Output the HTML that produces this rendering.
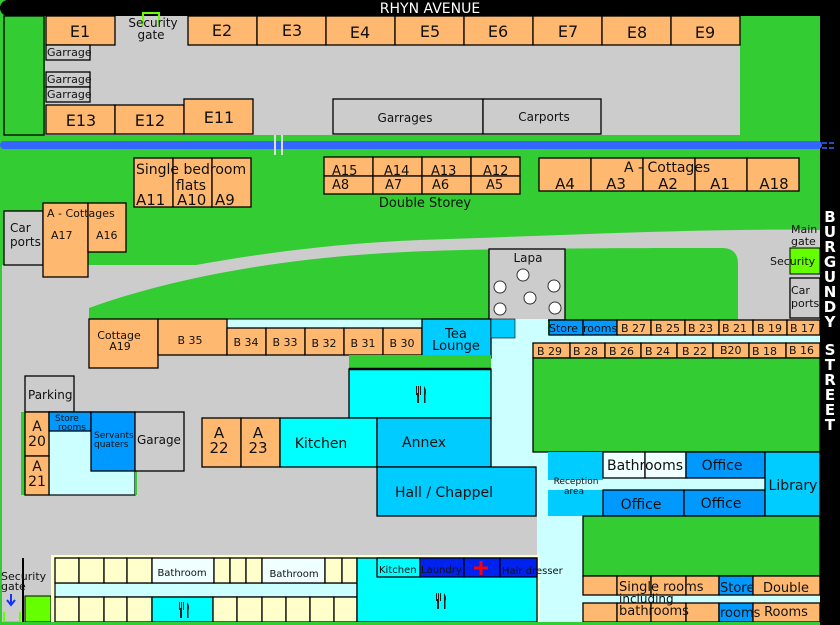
<!DOCTYPE html>
<html><head><meta charset="utf-8"><style>
html,body{margin:0;padding:0;background:#33cc33}
svg{display:block}
text{font-family:"DejaVu Sans","Liberation Sans",sans-serif;fill:#111}
.o{fill:#ffb870;stroke:#000;stroke-width:1.3}
.g{fill:#cccccc;stroke:#000;stroke-width:1.3}
.c{fill:#00ffff;stroke:#000;stroke-width:1.3}
.b{fill:#00ccff;stroke:#000;stroke-width:1.3}
.d{fill:#0099ff;stroke:#000;stroke-width:1.3}
.l{fill:#ccffff}
.y{fill:#ffffcc;stroke:#000;stroke-width:1.3}
.w{fill:#f0ffff;stroke:#000;stroke-width:1.3}
</style></head><body>
<svg width="840" height="625" viewBox="0 0 840 625" xmlns="http://www.w3.org/2000/svg">
<rect x="0" y="0" width="840" height="625" fill="#33cc33"/>
<rect x="45" y="14" width="695" height="121" fill="#cccccc"/>
<rect x="4" y="16" width="40" height="119" fill="#33cc33" stroke="#000" stroke-width="1.3"/>
<rect x="0" y="0" width="838" height="16" rx="8" fill="#000"/>
<text x="430" y="13" font-size="14" text-anchor="middle" style="fill:#fff">RHYN AVENUE</text>
<rect x="820" y="0" width="20" height="625" fill="#000"/>
<rect x="46" y="16" width="69" height="29" class="o"/><text x="80" y="37" font-size="16" text-anchor="middle">E1</text>
<path d="M143 25 V13 H159 V25" fill="none" stroke="#66ff00" stroke-width="2"/>
<text x="153" y="27" font-size="12" text-anchor="middle">Security</text>
<text x="151" y="39" font-size="12" text-anchor="middle">gate</text>
<rect x="188" y="16" width="69" height="29" class="o"/><text x="222" y="36" font-size="16" text-anchor="middle">E2</text>
<rect x="257" y="16" width="69" height="29" class="o"/><text x="292" y="36" font-size="16" text-anchor="middle">E3</text>
<rect x="326" y="16" width="69" height="29" class="o"/><text x="360" y="38" font-size="16" text-anchor="middle">E4</text>
<rect x="395" y="16" width="69" height="29" class="o"/><text x="430" y="37" font-size="16" text-anchor="middle">E5</text>
<rect x="464" y="16" width="69" height="29" class="o"/><text x="498" y="37" font-size="16" text-anchor="middle">E6</text>
<rect x="533" y="16" width="69" height="29" class="o"/><text x="568" y="37" font-size="16" text-anchor="middle">E7</text>
<rect x="602" y="16" width="69" height="29" class="o"/><text x="637" y="38" font-size="16" text-anchor="middle">E8</text>
<rect x="671" y="16" width="69" height="29" class="o"/><text x="705" y="38" font-size="16" text-anchor="middle">E9</text>
<rect x="46" y="45" width="44" height="15" class="g"/><text x="47" y="56" font-size="11">Garrage</text>
<rect x="46" y="72" width="44" height="15" class="g"/><text x="47" y="83" font-size="11">Garrage</text>
<rect x="46" y="87" width="44" height="15" class="g"/><text x="47" y="98" font-size="11">Garrage</text>
<rect x="46" y="105" width="69" height="29" class="o"/><text x="81" y="126" font-size="16" text-anchor="middle">E13</text>
<rect x="115" y="105" width="69" height="29" class="o"/><text x="150" y="126" font-size="16" text-anchor="middle">E12</text>
<rect x="184" y="99" width="69" height="35" class="o"/><text x="219" y="123" font-size="16" text-anchor="middle">E11</text>
<rect x="333" y="99" width="150" height="35" class="g"/><text x="405" y="122" font-size="12" text-anchor="middle">Garrages</text>
<rect x="483" y="99" width="118" height="35" class="g"/><text x="544" y="121" font-size="12" text-anchor="middle">Carports</text>
<rect x="0" y="141" width="822" height="8" rx="4" fill="#3366ff"/>
<line x1="275" y1="135" x2="275" y2="155" stroke="#ddd" stroke-width="2"/>
<line x1="282" y1="135" x2="282" y2="155" stroke="#ddd" stroke-width="2"/>
<line x1="822" y1="143" x2="836" y2="143" stroke="#3366ff" stroke-width="1.5" stroke-dasharray="5,2"/>
<line x1="822" y1="148" x2="836" y2="148" stroke="#3366ff" stroke-width="1.5" stroke-dasharray="5,2"/>
<rect x="2" y="265" width="546" height="360" fill="#cccccc"/>
<rect x="43" y="205" width="45" height="70" fill="#cccccc"/>
<path d="M88 320 L88 287 C200 262 300 245 420 240 C550 236 700 228 820 230 L820 320 Z" fill="#cccccc"/>
<path d="M89 320 L89 308 C180 275 300 255 430 251 C520 248 650 248 722 248 Q738 248 738 264 L738 320 Z" fill="#33cc33"/>
<rect x="4" y="211" width="39" height="54" class="g"/><text x="10" y="232" font-size="12">Car</text><text x="10" y="246" font-size="12">ports</text>
<rect x="134" y="158" width="39" height="49" class="o"/><rect x="173" y="158" width="39" height="49" class="o"/><rect x="212" y="158" width="39" height="49" class="o"/>
<text x="136" y="174" font-size="14">Single bedroom</text>
<text x="191" y="190" font-size="14" text-anchor="middle">flats</text>
<text x="136" y="205" font-size="15">A11</text><text x="177" y="205" font-size="15">A10</text><text x="215" y="205" font-size="15">A9</text>
<rect x="324" y="157" width="49" height="19" class="o"/><rect x="373" y="157" width="49" height="19" class="o"/><rect x="422" y="157" width="49" height="19" class="o"/><rect x="471" y="157" width="49" height="19" class="o"/>
<rect x="324" y="176" width="49" height="18" class="o"/><rect x="373" y="176" width="49" height="18" class="o"/><rect x="422" y="176" width="49" height="18" class="o"/><rect x="471" y="176" width="49" height="18" class="o"/>
<text x="332" y="175" font-size="13">A15</text><text x="384" y="175" font-size="13">A14</text><text x="431" y="175" font-size="13">A13</text><text x="483" y="175" font-size="13">A12</text>
<text x="332" y="189" font-size="13">A8</text><text x="385" y="189" font-size="13">A7</text><text x="432" y="189" font-size="13">A6</text><text x="486" y="189" font-size="13">A5</text>
<text x="425" y="207" font-size="13" text-anchor="middle">Double Storey</text>
<rect x="539" y="158" width="52" height="33" class="o"/><rect x="591" y="158" width="52" height="33" class="o"/><rect x="643" y="158" width="52" height="33" class="o"/><rect x="695" y="158" width="52" height="33" class="o"/><rect x="747" y="158" width="52" height="33" class="o"/>
<text x="624" y="172" font-size="14">A - Cottages</text>
<text x="565" y="189" font-size="15" text-anchor="middle">A4</text><text x="616" y="189" font-size="15" text-anchor="middle">A3</text><text x="668" y="189" font-size="15" text-anchor="middle">A2</text><text x="720" y="189" font-size="15" text-anchor="middle">A1</text><text x="774" y="189" font-size="15" text-anchor="middle">A18</text>
<rect x="43" y="203" width="45" height="74" class="o"/><rect x="88" y="203" width="38" height="49" class="o"/>
<text x="47" y="217" font-size="11">A - Cottages</text>
<text x="51" y="239" font-size="11">A17</text><text x="96" y="239" font-size="11">A16</text>
<text x="791" y="233" font-size="11">Main</text><text x="791" y="245" font-size="11">gate</text>
<rect x="790" y="248" width="30" height="26" fill="#66ff00" stroke="#000"/>
<text x="770" y="265" font-size="11">Security</text>
<rect x="790" y="278" width="30" height="40" class="g"/><text x="791" y="294" font-size="11">Car</text><text x="791" y="307" font-size="11">ports</text>
<g font-size="15" font-weight="bold" text-anchor="middle">
<text x="830" y="222" style="fill:#fff">B</text><text x="830" y="237" style="fill:#fff">U</text><text x="830" y="252" style="fill:#fff">R</text><text x="830" y="267" style="fill:#fff">G</text><text x="830" y="282" style="fill:#fff">U</text><text x="830" y="297" style="fill:#fff">N</text><text x="830" y="312" style="fill:#fff">D</text><text x="830" y="327" style="fill:#fff">Y</text>
<text x="830" y="355" style="fill:#fff">S</text><text x="830" y="370" style="fill:#fff">T</text><text x="830" y="385" style="fill:#fff">R</text><text x="830" y="400" style="fill:#fff">E</text><text x="830" y="415" style="fill:#fff">E</text><text x="830" y="430" style="fill:#fff">T</text>
</g>
<rect x="489" y="249" width="76" height="71" class="g"/>
<text x="528" y="262" font-size="12" text-anchor="middle">Lapa</text>
<g fill="#fff" stroke="#333" stroke-width="1">
<circle cx="523" cy="275" r="6"/><circle cx="500" cy="287" r="6"/><circle cx="530" cy="298" r="6"/><circle cx="554" cy="286" r="6"/><circle cx="500" cy="309" r="6"/><circle cx="555" cy="308" r="6"/>
</g>
<path d="M491 319 L548 319 L548 452 L537 452 L537 625 L583 625 L583 516 L537 516 L537 470 L491 470 Z" class="l"/>
<rect x="537" y="452" width="46" height="173" class="l"/>
<rect x="227" y="319" width="195" height="10" class="l" stroke="#000" stroke-width="1"/>
<rect x="89" y="319" width="69" height="49" class="o"/><text x="119" y="339" font-size="11" text-anchor="middle">Cottage</text><text x="120" y="350" font-size="11" text-anchor="middle">A19</text>
<rect x="158" y="319" width="69" height="36" class="o"/><text x="190" y="344" font-size="11" text-anchor="middle">B 35</text>
<rect x="227" y="328" width="39" height="27" class="o"/><text x="246" y="346" font-size="11" text-anchor="middle">B 34</text>
<rect x="266" y="328" width="39" height="27" class="o"/><text x="285" y="346" font-size="11" text-anchor="middle">B 33</text>
<rect x="305" y="328" width="39" height="27" class="o"/><text x="324" y="347" font-size="11" text-anchor="middle">B 32</text>
<rect x="344" y="328" width="39" height="27" class="o"/><text x="363" y="347" font-size="11" text-anchor="middle">B 31</text>
<rect x="383" y="328" width="39" height="27" class="o"/><text x="402" y="347" font-size="11" text-anchor="middle">B 30</text>
<rect x="422" y="319" width="69" height="39" class="b"/><text x="456" y="338" font-size="13" text-anchor="middle">Tea</text><text x="456" y="350" font-size="13" text-anchor="middle">Lounge</text>
<rect x="491" y="319" width="24" height="19" fill="#00ccff" stroke="#000" stroke-width="0.6"/>
<rect x="349" y="355" width="142" height="13" fill="#33cc33"/>
<rect x="349" y="369" width="142" height="49" class="c"/>
<line x1="349" y1="369" x2="491" y2="369" stroke="#000" stroke-width="2.5"/>
<g fill="#222"><rect x="416" y="386" width="1" height="9"/><rect x="418" y="386" width="1" height="9"/><rect x="420" y="386" width="1" height="9"/><rect x="417" y="393" width="2" height="10"/><path d="M424 386 Q427 390 425.5 395 L425.5 403 L424 403 Z"/></g>
<rect x="202" y="418" width="39" height="49" class="o"/><text x="219" y="438" font-size="15" text-anchor="middle">A</text><text x="219" y="453" font-size="15" text-anchor="middle">22</text>
<rect x="241" y="418" width="39" height="49" class="o"/><text x="258" y="438" font-size="15" text-anchor="middle">A</text><text x="258" y="453" font-size="15" text-anchor="middle">23</text>
<rect x="280" y="418" width="97" height="49" class="c"/><text x="321" y="448" font-size="14" text-anchor="middle">Kitchen</text>
<rect x="377" y="418" width="114" height="49" class="b"/><text x="424" y="447" font-size="14" text-anchor="middle">Annex</text>
<rect x="377" y="467" width="159" height="49" class="b"/><text x="444" y="497" font-size="14" text-anchor="middle">Hall / Chappel</text>
<rect x="25" y="376" width="49" height="36" class="g"/><text x="28" y="399" font-size="12">Parking</text>
<rect x="21" y="412" width="4" height="83" fill="#33cc33"/>
<rect x="49" y="412" width="86" height="83" class="l" stroke="#000" stroke-width="1.2"/>
<rect x="135" y="471" width="2" height="24" fill="#33cc33"/>
<rect x="25" y="412" width="24" height="44" class="o"/><text x="37" y="431" font-size="14" text-anchor="middle">A</text><text x="37" y="446" font-size="14" text-anchor="middle">20</text>
<rect x="25" y="456" width="24" height="39" class="o"/><text x="37" y="471" font-size="14" text-anchor="middle">A</text><text x="37" y="486" font-size="14" text-anchor="middle">21</text>
<rect x="49" y="412" width="42" height="19" class="d"/><text x="55" y="421" font-size="9">Store</text><text x="58" y="430" font-size="9">rooms</text>
<rect x="91" y="412" width="44" height="59" class="d"/><text x="94" y="438" font-size="9">Servants</text><text x="94" y="447" font-size="9">quaters</text>
<rect x="135" y="412" width="49" height="59" class="g"/><text x="137" y="444" font-size="12">Garage</text>
<rect x="533" y="335" width="287" height="8" class="l"/>
<rect x="549" y="320" width="34" height="15" class="d"/><text x="549" y="332" font-size="11">Store</text>
<rect x="583" y="320" width="34" height="15" class="d"/><text x="583" y="332" font-size="11">rooms</text>
<g font-size="11">
<rect x="617" y="320" width="34" height="15" class="o"/><text x="621" y="332">B 27</text>
<rect x="651" y="320" width="34" height="15" class="o"/><text x="655" y="332">B 25</text>
<rect x="685" y="320" width="34" height="15" class="o"/><text x="688" y="332">B 23</text>
<rect x="719" y="320" width="34" height="15" class="o"/><text x="722" y="332">B 21</text>
<rect x="753" y="320" width="34" height="15" class="o"/><text x="757" y="332">B 19</text>
<rect x="787" y="320" width="33" height="15" class="o"/><text x="790" y="332">B 17</text>
<rect x="533" y="343" width="37" height="15" class="o"/><text x="537" y="355">B 29</text>
<rect x="570" y="343" width="35" height="15" class="o"/><text x="573" y="355">B 28</text>
<rect x="605" y="343" width="36" height="15" class="o"/><text x="609" y="355">B 26</text>
<rect x="641" y="343" width="36" height="15" class="o"/><text x="645" y="355">B 24</text>
<rect x="677" y="343" width="36" height="15" class="o"/><text x="682" y="355">B 22</text>
<rect x="713" y="343" width="36" height="15" class="o"/><text x="720" y="354">B20</text>
<rect x="749" y="343" width="37" height="15" class="o"/><text x="752" y="355">B 18</text>
<rect x="786" y="343" width="34" height="15" class="o"/><text x="789" y="354">B 16</text>
</g>
<rect x="533" y="358" width="287" height="94" fill="#33cc33" stroke="#000" stroke-width="1.3"/>
<rect x="548" y="452" width="217" height="64" class="l"/>
<rect x="548" y="452" width="55" height="28" fill="#00ccff"/>
<rect x="548" y="490" width="55" height="26" fill="#00ccff"/>
<text x="576" y="484" font-size="9" text-anchor="middle">Reception</text><text x="574" y="494" font-size="9" text-anchor="middle">area</text>
<rect x="603" y="452" width="42" height="26" class="w"/><rect x="645" y="452" width="41" height="26" class="w"/>
<text x="645" y="470" font-size="14" text-anchor="middle">Bathrooms</text>
<rect x="686" y="452" width="79" height="26" class="d"/><text x="722" y="470" font-size="14" text-anchor="middle">Office</text>
<rect x="603" y="490" width="81" height="26" class="d"/><text x="641" y="509" font-size="14" text-anchor="middle">Office</text>
<rect x="684" y="490" width="81" height="26" class="d"/><text x="721" y="508" font-size="14" text-anchor="middle">Office</text>
<rect x="765" y="452" width="55" height="64" class="b"/><text x="793" y="490" font-size="14" text-anchor="middle">Library</text>
<rect x="583" y="516" width="237" height="60" fill="#33cc33" stroke="#000" stroke-width="1.3"/>
<rect x="583" y="595" width="237" height="8" class="l"/>
<rect x="583" y="576" width="34" height="19" class="o"/><rect x="617" y="576" width="34" height="19" class="o"/><rect x="651" y="576" width="35" height="19" class="o"/><rect x="686" y="576" width="33" height="19" class="o"/>
<rect x="719" y="576" width="34" height="19" class="d"/><rect x="753" y="576" width="67" height="19" class="o"/>
<rect x="583" y="603" width="34" height="19" class="o"/><rect x="617" y="603" width="34" height="19" class="o"/><rect x="651" y="603" width="35" height="19" class="o"/><rect x="686" y="603" width="33" height="19" class="o"/>
<rect x="719" y="603" width="34" height="19" class="d"/><rect x="753" y="603" width="67" height="19" class="o"/>
<text x="619" y="591" font-size="13">Single rooms</text>
<text x="619" y="603" font-size="12">including</text>
<text x="619" y="615" font-size="13">bathrooms</text>
<text x="720" y="592" font-size="13">Store</text><text x="720" y="617" font-size="13">rooms</text>
<text x="786" y="592" font-size="13" text-anchor="middle">Double</text><text x="786" y="616" font-size="13" text-anchor="middle">Rooms</text>
<rect x="22" y="558" width="2" height="67" fill="#000"/>
<path d="M4 612 V622 H20 V612" fill="none" stroke="#66ff00" stroke-width="2"/>
<text x="1" y="580" font-size="11">Security</text><text x="1" y="590" font-size="11">gate</text>
<path d="M11 594 V604 M7 600 L11 605 L15 600" stroke="#1133ff" stroke-width="2" fill="none"/>
<rect x="25" y="596" width="26" height="26" fill="#66ff00" stroke="#000"/>
<rect x="51" y="555" width="489" height="70" fill="#ffffcc"/>
<rect x="55" y="583" width="302" height="14" class="l" stroke="#000" stroke-width="1.2"/>
<g>
<rect x="55" y="558" width="24" height="25" class="y"/><rect x="79" y="558" width="25" height="25" class="y"/><rect x="104" y="558" width="23" height="25" class="y"/><rect x="127" y="558" width="25" height="25" class="y"/>
<rect x="152" y="558" width="62" height="25" class="w"/><rect x="214" y="558" width="16" height="25" class="y"/><rect x="230" y="558" width="16" height="25" class="y"/><rect x="246" y="558" width="16" height="25" class="y"/>
<rect x="262" y="558" width="63" height="25" class="w"/><rect x="325" y="558" width="17" height="25" class="y"/><rect x="342" y="558" width="15" height="25" class="y"/>
<rect x="55" y="597" width="24" height="25" class="y"/><rect x="79" y="597" width="25" height="25" class="y"/><rect x="104" y="597" width="23" height="25" class="y"/><rect x="127" y="597" width="25" height="25" class="y"/>
<rect x="152" y="597" width="61" height="25" class="c"/><rect x="213" y="597" width="24" height="25" class="y"/><rect x="237" y="597" width="25" height="25" class="y"/><rect x="262" y="597" width="24" height="25" class="y"/><rect x="286" y="597" width="24" height="25" class="y"/><rect x="310" y="597" width="24" height="25" class="y"/><rect x="334" y="597" width="23" height="25" class="y"/>
</g>
<text x="182" y="576" font-size="10" text-anchor="middle">Bathroom</text>
<text x="294" y="577" font-size="10" text-anchor="middle">Bathroom</text>
<g fill="#222"><rect x="179" y="602" width="1" height="8"/><rect x="181" y="602" width="1" height="8"/><rect x="183" y="602" width="1" height="8"/><rect x="180" y="608" width="2" height="10"/><path d="M187 602 Q190 606 188.5 610 L188.5 618 L187 618 Z"/></g>
<rect x="357" y="558" width="180" height="64" class="c"/>
<rect x="377" y="558" width="43" height="19" class="c"/><text x="379" y="573" font-size="10">Kitchen</text>
<rect x="420" y="558" width="44" height="19" fill="#0022ee" stroke="#000" stroke-width="1.2"/><text x="421" y="573" font-size="10">Laundry</text>
<rect x="464" y="558" width="36" height="19" fill="#0022ee" stroke="#000" stroke-width="1.2"/>
<path d="M481 561 V575 M474 568 H488" stroke="#ff0000" stroke-width="3"/>
<rect x="500" y="558" width="37" height="19" fill="#0022ee" stroke="#000" stroke-width="1.2"/><text x="502" y="574" font-size="10">Hair dresser</text>
<g fill="#222"><rect x="436" y="593" width="1" height="8"/><rect x="438" y="593" width="1" height="8"/><rect x="440" y="593" width="1" height="8"/><rect x="437" y="599" width="2" height="10"/><path d="M444 593 Q447 597 445.5 601 L445.5 609 L444 609 Z"/></g>
<rect x="0" y="622" width="820" height="3" fill="#33cc33"/>
</svg>
</body></html>
